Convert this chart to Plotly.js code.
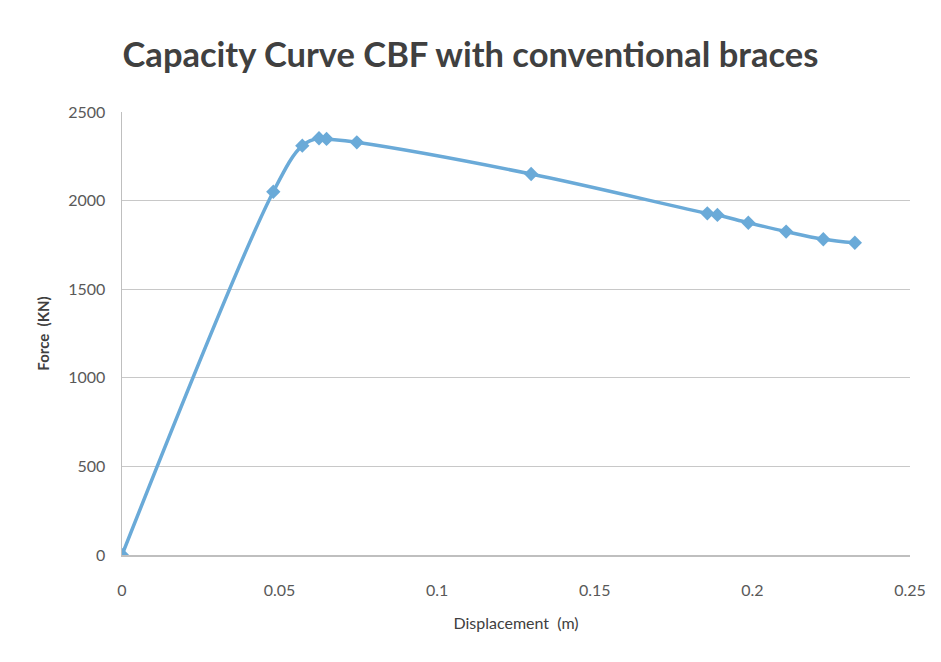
<!DOCTYPE html>
<html>
<head>
<meta charset="utf-8">
<script src="https://cdn.plot.ly/plotly-3.0.1.min.js"></script>
<style>html,body{margin:0;padding:0;background:#fff;}#chart{width:941px;height:662px;}</style>
</head>
<body>
<div id="chart"></div>
<script>
const displacement = [0, 0.048, 0.0572, 0.0625, 0.0649, 0.0745, 0.1298, 0.1857, 0.1889, 0.1987, 0.2107, 0.2225, 0.2325];
const force = [0, 2050, 2310, 2352, 2348, 2329, 2150, 1928, 1919, 1875, 1825, 1782, 1762];
const xTicks = [0, 0.05, 0.1, 0.15, 0.2, 0.25];
const xTickLabels = ['0', '0.05', '0.1', '0.15', '0.2', '0.25'];
const yTicks = [0, 500, 1000, 1500, 2000, 2500];

const trace = {
  x: displacement, y: force, type: 'scatter', mode: 'lines+markers',
  line: {color: '#6aaad8', width: 3.5, shape: 'spline', smoothing: 1},
  marker: {symbol: 'diamond', size: 11, color: '#6aaad8'},
  hoverinfo: 'skip'
};
const layout = {
  width: 941, height: 662,
  margin: {l: 122, r: 31, t: 112, b: 107},
  paper_bgcolor: '#fff', plot_bgcolor: '#fff',
  showlegend: false,
  font: {family: 'Lato, "Open Sans", sans-serif', color: '#595959'},
  title: {text: 'Capacity Curve CBF with conventional braces', font: {size: 34.5, weight: 'bold', color: '#404040', family: 'Lato, "Open Sans", sans-serif'}, x: 0.5, xanchor: 'center', y: 0.917, yanchor: 'middle'},
  xaxis: {
    range: [0, 0.25], tickvals: xTicks, ticktext: xTickLabels, showgrid: false, zeroline: false,
    showline: true, linecolor: '#bfbfbf', linewidth: 1.5, ticks: '', ticklabelstandoff: 20, tickfont: {size: 16, color: '#595959'},
    title: {text: 'Displacement  (m)', font: {size: 16, color: '#404040'}, standoff: 20}
  },
  yaxis: {
    range: [0, 2500], tickvals: yTicks, showgrid: true, gridcolor: '#c8c8c8', gridwidth: 1.2, zeroline: false,
    showline: true, linecolor: '#bfbfbf', linewidth: 1.5, ticks: '', ticklabelstandoff: 12, tickfont: {size: 16, color: '#595959'},
    title: {text: '<b>Force  (KN)</b>', font: {size: 15, color: '#404040'}, standoff: 15}
  }
};
Plotly.newPlot('chart', [trace], layout, {staticPlot: true, displayModeBar: false});
</script>
</body>
</html>
